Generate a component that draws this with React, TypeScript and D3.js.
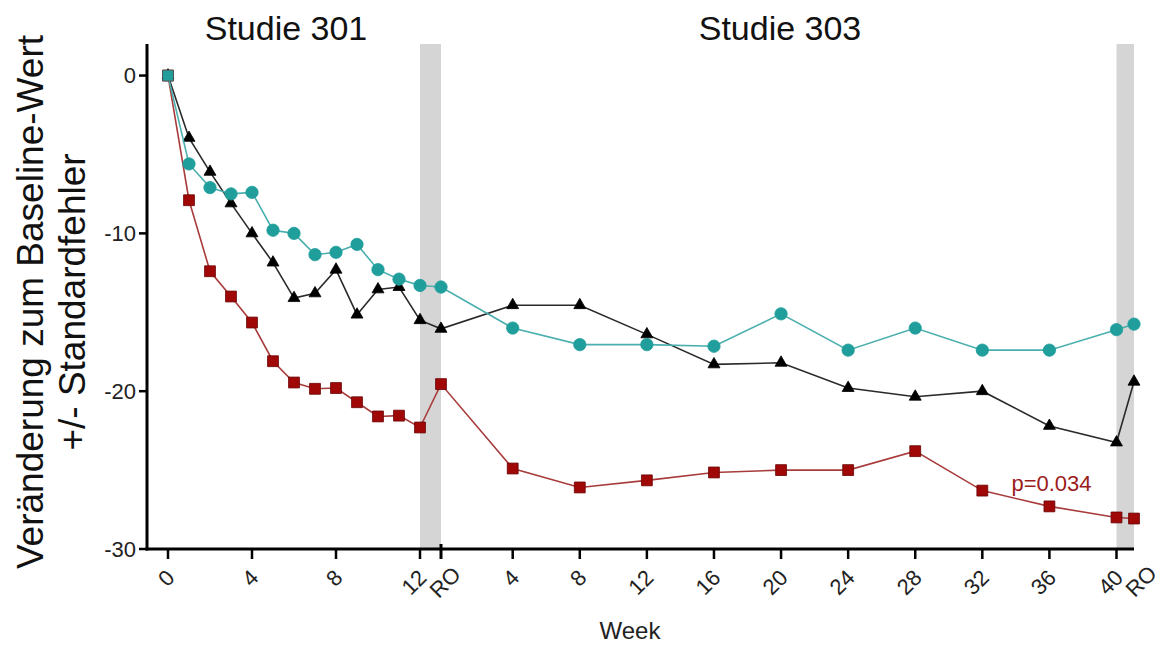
import React from 'react';
import * as d3 from 'd3';

// x categories: study 301 weeks, RO, study 303 weeks, RO
const weeks301 = [0, 1, 2, 3, 4, 5, 6, 7, 8, 9, 10, 11, 12];
const weeks303 = [4, 8, 12, 16, 20, 24, 28, 32, 36, 40];
const ticks301 = [0, 4, 8, 12];
const ticks303 = [4, 8, 12, 16, 20, 24, 28, 32, 36, 40];
const yTicks = [0, -10, -20, -30];

// values in category order (13 weeks of 301, RO, 10 visits of 303, RO)
const tealValues = [
  0, -5.6, -7.1, -7.5, -7.4, -9.8, -10.0, -11.35, -11.2, -10.7, -12.3, -12.9, -13.3,
  -13.4,
  -16.0, -17.05, -17.05, -17.15, -15.1, -17.4, -16.0, -17.4, -17.4, -16.1,
  -15.75,
];
const blackValues = [
  0, -3.95, -6.1, -8.1, -10.0, -11.85, -14.1, -13.8, -12.3, -15.15, -13.55, -13.4, -15.5,
  -16.05,
  -14.55, -14.55, -16.4, -18.3, -18.2, -19.8, -20.35, -20.0, -22.2, -23.25,
  -19.4,
];
const redValues = [
  0, -7.9, -12.4, -14.0, -15.65, -18.1, -19.45, -19.85, -19.8, -20.7, -21.6, -21.55, -22.3,
  -19.55,
  -24.9, -26.1, -25.65, -25.15, -25.0, -25.0, -23.8, -26.3, -27.3, -28.0,
  -28.07,
];

const W = 1161;
const H = 646;
const font = '"Liberation Sans", Arial, Helvetica, sans-serif';

// position index on the axis: 301 weeks 0..12, RO = 13, 303 week w = 13 + w, last RO = 54
const RO1 = 13;
const RO2 = 54;
const positions = [...weeks301, RO1, ...weeks303.map((w) => RO1 + w), RO2];

const x = d3.scaleLinear().domain([0, RO1, RO1 + 4, RO1 + 40, RO2]).range([168, 441, 512.7, 1116.5, 1134]);
const y = d3.scaleLinear().domain([-30, 2]).range([549, 44]);

const axisLeft = 147;
const axisBottom = y(-30);
const axisTop = y(2);

const line = d3
  .line<number>()
  .x((_, i) => x(positions[i]))
  .y((d) => y(d));

const series = [
  { name: 'red', values: redValues, line: '#a83c3c', fill: '#a00808', stroke: '#6a0000', symbol: d3.symbolSquare, size: 118 },
  { name: 'black', values: blackValues, line: '#2a2a2a', fill: '#000000', stroke: '#000000', symbol: d3.symbolTriangle, size: 62 },
  { name: 'teal', values: tealValues, line: '#4aafae', fill: '#1f9e9c', stroke: '#1f9e9c', symbol: d3.symbolCircle, size: 120 },
];

export default function App() {
  const bands = [
    [12, RO1],
    [RO1 + 40, RO2],
  ];
  return (
    <svg width={W} height={H} style={{ position: 'absolute', left: 0, top: 0, background: '#fff' }} fontFamily={font}>
      {/* grey run-out bands */}
      {bands.map(([a, b], i) => (
        <rect key={i} x={x(a)} y={axisTop} width={x(b) - x(a)} height={axisBottom - axisTop} fill="#d5d5d5" />
      ))}

      {/* study titles */}
      <text x={286} y={40} fontSize={34} textAnchor="middle" fill="#111">Studie 301</text>
      <text x={780} y={40} fontSize={34} textAnchor="middle" fill="#111">Studie 303</text>

      {/* series */}
      {series.map((s) => (
        <g key={s.name}>
          <path d={line(s.values) || ''} fill="none" stroke={s.line} strokeWidth={1.6} />
          {s.values.map((v, i) => {
            const isOrigin = i === 0 && s.name === 'teal';
            const path = d3.symbol().type(isOrigin ? d3.symbolSquare : s.symbol).size(isOrigin ? 118 : s.size)();
            return (
              <path
                key={i}
                d={path || ''}
                transform={`translate(${x(positions[i])},${y(v)})`}
                fill={s.fill}
                stroke={isOrigin ? '#555' : s.stroke}
                strokeWidth={0.8}
              />
            );
          })}
        </g>
      ))}

      <text x={x(RO1 + 36) - 38} y={y(-27.3) - 15} fontSize={22} fill="#9b1c1c">p=0.034</text>

      {/* y axis */}
      <line x1={axisLeft} x2={axisLeft} y1={axisTop} y2={axisBottom + 1.5} stroke="#000" strokeWidth={3} />
      {yTicks.map((t) => (
        <g key={t} transform={`translate(0,${y(t)})`}>
          <line x1={axisLeft - 8} x2={axisLeft} stroke="#000" strokeWidth={2.5} />
          <text x={axisLeft - 11} dy="0.36em" fontSize={22} textAnchor="end" fill="#222">{t}</text>
        </g>
      ))}

      {/* x axis */}
      <line x1={axisLeft - 1.5} x2={x(RO2)} y1={axisBottom} y2={axisBottom} stroke="#000" strokeWidth={3} />
      {ticks301.map((t) => (
        <g key={'a' + t} transform={`translate(${x(t)},${axisBottom})`}>
          <line y1={0} y2={10} stroke="#000" strokeWidth={2.5} />
          <text transform="translate(8,30) rotate(-45)" fontSize={22} textAnchor="end" fill="#222">{t}</text>
        </g>
      ))}
      <g transform={`translate(${x(RO1)},${axisBottom})`}>
        <line y1={-5} y2={10} stroke="#000" strokeWidth={3} />
        <text transform="translate(21,27) rotate(-45)" fontSize={22} textAnchor="end" fill="#222">RO</text>
      </g>
      {ticks303.map((t) => (
        <g key={'b' + t} transform={`translate(${x(RO1 + t)},${axisBottom})`}>
          <line y1={0} y2={10} stroke="#000" strokeWidth={2.5} />
          <text transform="translate(8,30) rotate(-45)" fontSize={22} textAnchor="end" fill="#222">{t}</text>
        </g>
      ))}
      <g transform={`translate(${x(RO2)},${axisBottom})`}>
        <text transform="translate(24,26) rotate(-45)" fontSize={22} textAnchor="end" fill="#222">RO</text>
      </g>

      <text x={630} y={639} fontSize={24} textAnchor="middle" fill="#222">Week</text>

      {/* y axis title */}
      <g transform="translate(0,302) rotate(-90)" fontSize={37} textAnchor="middle" fill="#111">
        <text x={0} y={43}>Veränderung zum Baseline-Wert</text>
        <text x={0} y={85}>+/- Standardfehler</text>
      </g>
    </svg>
  );
}
